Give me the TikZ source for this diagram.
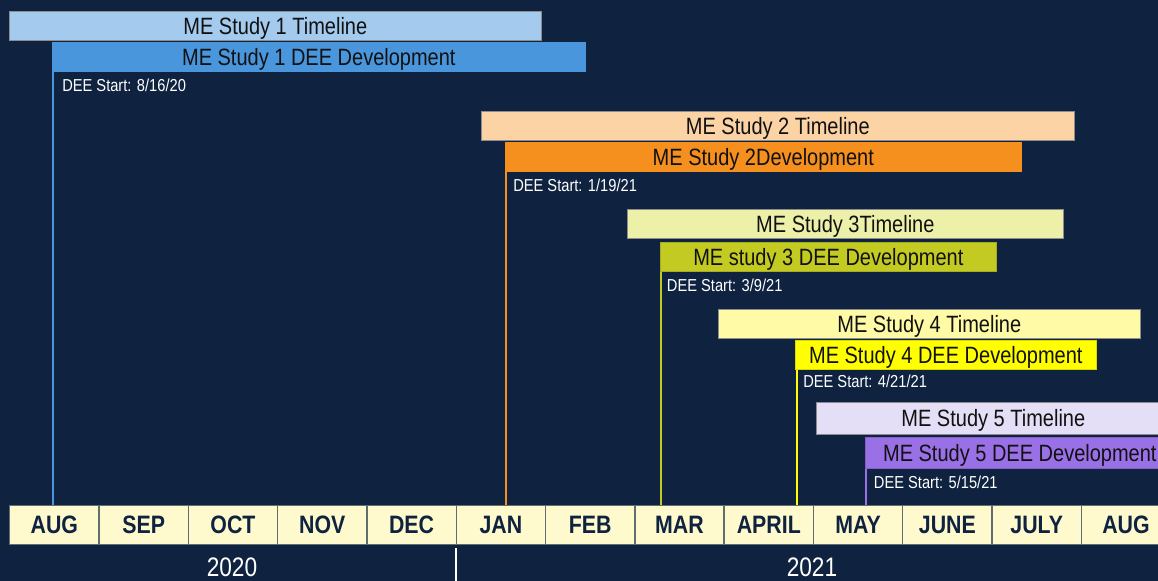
\documentclass[tikz,border=0pt]{standalone}
\usepackage{fontspec}
\setmainfont{Liberation Sans}
\definecolor{bg}{HTML}{0F2341}
\definecolor{tA}{HTML}{A4CBEE}
\definecolor{dA}{HTML}{4A96DC}
\definecolor{tB}{HTML}{FCD3A5}
\definecolor{dB}{HTML}{F5901E}
\definecolor{tC}{HTML}{EDF0A9}
\definecolor{dC}{HTML}{C3CB23}
\definecolor{tD}{HTML}{FEFAA5}
\definecolor{dD}{HTML}{FFFF00}
\definecolor{tE}{HTML}{E4DEF6}
\definecolor{dE}{HTML}{9A70E6}
\definecolor{cell}{HTML}{FFFACD}
\definecolor{cellline}{HTML}{5F6E6E}
\definecolor{txt}{HTML}{111111}
\newcommand{\vst}[1]{\scalebox{1}[1.18]{#1}}
\newcommand{\bst}[1]{\raisebox{-1.6pt}[\height][\depth]{\scalebox{1}[1.18]{#1}}}
\tikzset{
  bar/.style={draw=black!45, line width=0.5pt, inner sep=0pt, anchor=north west,
    font=\fontsize{15}{15}\selectfont, text=txt, minimum height=21.75pt},
  startlbl/.style={anchor=west, inner sep=0pt, text=white, font=\fontsize{11}{11}\selectfont},
  startline/.style={line width=1.5pt},
  month/.style={draw=cellline, line width=1.1pt, fill=cell, anchor=north west, inner sep=0pt,
    minimum width=66.975pt, minimum height=29.25pt, text=bg, font=\fontsize{16}{16}\selectfont\bfseries},
  year/.style={text=white, font=\fontsize{17}{17}\selectfont, inner sep=0pt}
}
\begin{document}
\begin{tikzpicture}[x=0.75pt,y=-0.75pt]
\fill[bg] (0,0) rectangle (1158,581);
\useasboundingbox (0,0) rectangle (1158,581);
% months
\foreach \m [count=\i from 0] in {AUG,SEP,OCT,NOV,DEC,JAN,FEB,MAR,APRIL,MAY,JUNE,JULY,AUG}{
  \node[month] (m\i) at ({9+89.3*\i},505) {\vst{\m}};
}
% year row
\node[year] (y2020) at (232,567) {\vst{2020}};
\node[year] (y2021) at (812,567) {\vst{2021}};
\coordinate (ydivtop) at (456,548);
\coordinate (ydivbot) at (456,581);
\draw[white, line width=1pt] (ydivtop) -- (ydivbot);
% study 1
\node[bar, fill=tA, minimum width=399pt] (t1) at (9,11) {\bst{ME Study 1 Timeline}};
\node[bar, fill=dA, draw=dA, minimum width=399.75pt] (d1) at (52,42) {\bst{ME Study 1 DEE Development}};
\draw[startline, dA] ([xshift=0.75pt]d1.south west) -- ([xshift=0.75pt]d1.south west |- m0.north);
\node[startlbl] (s1) at ([xshift=7.5pt, yshift=-10.5pt]d1.south west) {\vst{DEE Start: 8/16/20}};
% study 2
\node[bar, fill=tB, minimum width=444.75pt] (t2) at (481,111) {\bst{ME Study 2 Timeline}};
\node[bar, fill=dB, draw=dB, minimum width=387pt] (d2) at (505,142) {\bst{ME Study 2Development}};
\draw[startline, dB] ([xshift=0.75pt]d2.south west) -- ([xshift=0.75pt]d2.south west |- m0.north);
\node[startlbl] (s2) at ([xshift=6pt, yshift=-10.5pt]d2.south west) {\vst{DEE Start: 1/19/21}};
% study 3
\node[bar, fill=tC, minimum width=327pt] (t3) at (627,209) {\bst{ME Study 3Timeline}};
\node[bar, fill=dC, draw=dC!85!black, minimum width=252pt] (d3) at (660,242) {\bst{ME study 3 DEE Development}};
\draw[startline, dC] ([xshift=0.75pt]d3.south west) -- ([xshift=0.75pt]d3.south west |- m0.north);
\node[startlbl] (s3) at ([xshift=5pt, yshift=-10.5pt]d3.south west) {\vst{DEE Start: 3/9/21}};
% study 4
\node[bar, fill=tD, minimum width=316.5pt] (t4) at (718,309) {\bst{ME Study 4 Timeline}};
\node[bar, fill=dD, draw=dD!85!black, minimum width=225.75pt] (d4) at (795,340) {\bst{ME Study 4 DEE Development}};
\draw[startline, dD] ([xshift=1.2pt]d4.south west) -- ([xshift=1.2pt]d4.south west |- m0.north);
\node[startlbl] (s4) at ([xshift=6pt, yshift=-9pt]d4.south west) {\vst{DEE Start: 4/21/21}};
% study 5
\node[bar, fill=tE, minimum width=265.5pt, minimum height=24pt] (t5) at (816,402) {\bst{ME Study 5 Timeline}};
\node[bar, fill=dE, draw=dE!85!black, minimum width=231.75pt, minimum height=23.25pt] (d5) at (865,437) {\bst{ME Study 5 DEE Development}};
\draw[startline, dE] ([xshift=0.75pt]d5.south west) -- ([xshift=0.75pt]d5.south west |- m0.north);
\node[startlbl] (s5) at ([xshift=6.5pt, yshift=-10.5pt]d5.south west) {\vst{DEE Start: 5/15/21}};
\end{tikzpicture}
\end{document}
